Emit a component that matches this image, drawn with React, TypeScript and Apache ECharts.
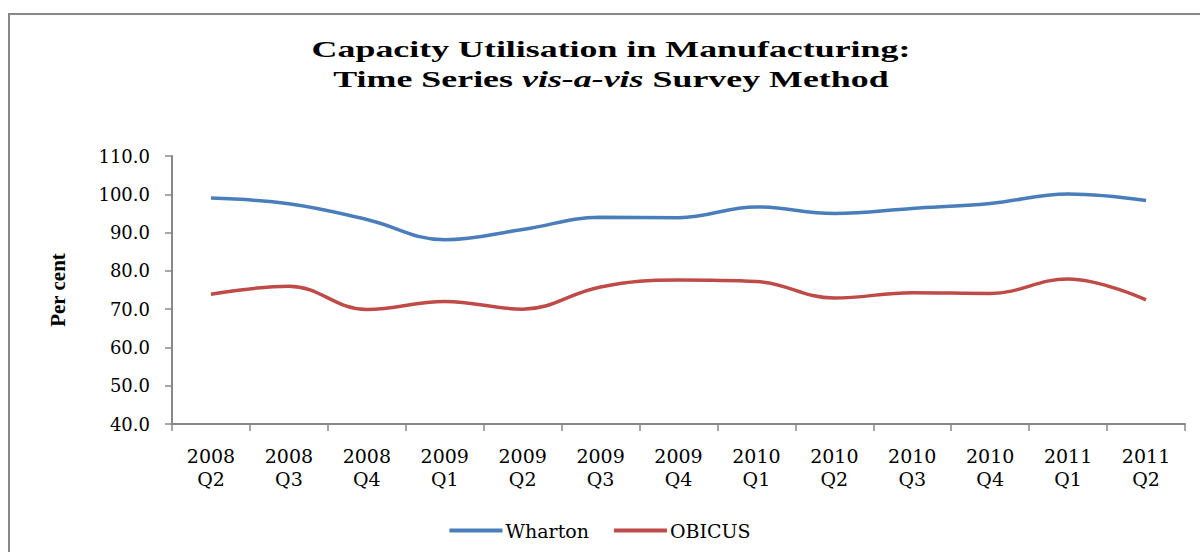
import React, { useEffect, useRef } from "react";
import * as echarts from "echarts";

const categories = [
  "2008\nQ2", "2008\nQ3", "2008\nQ4", "2009\nQ1", "2009\nQ2", "2009\nQ3", "2009\nQ4",
  "2010\nQ1", "2010\nQ2", "2010\nQ3", "2010\nQ4", "2011\nQ1", "2011\nQ2",
];
const wharton = [99.0, 97.5, 93.4, 88.1, 90.8, 94.0, 93.9, 96.7, 95.0, 96.3, 97.6, 100.1, 98.4];
const obicus = [73.9, 76.0, 69.9, 72.0, 70.0, 75.8, 77.6, 77.2, 72.9, 74.3, 74.1, 77.9, 72.4];
const titleLine1 = "Capacity Utilisation in Manufacturing:";
const titleLine2 = ["Time Series ", "vis-a-vis", " Survey Method"];

const SERIF = "'DejaVu Serif', serif";
const TIMES = "'Liberation Serif', serif";

export default function App() {
  const ref = useRef<HTMLDivElement>(null);
  useEffect(() => {
    document.body.style.margin = "0";
    const chart = echarts.init(ref.current!, undefined, { renderer: "svg" });
    chart.setOption({
      animation: false,
      backgroundColor: "#ffffff",
      graphic: [
        {
          type: "rect",
          shape: { x: 9, y: 14, width: 1300, height: 700 },
          style: { fill: "none", stroke: "#888888", lineWidth: 2 },
          silent: true,
        },
        {
          type: "text",
          x: 611,
          y: 34,
          scaleX: 1.56,
          silent: true,
          style: {
            text: `{b|${titleLine1}}\n{b|${titleLine2[0]}}{i|${titleLine2[1]}}{b|${titleLine2[2]}}`,
            align: "center",
            verticalAlign: "top",
            rich: {
              b: { fontFamily: TIMES, fontWeight: "bold", fontSize: 23, fill: "#000", lineHeight: 30 },
              i: { fontFamily: TIMES, fontStyle: "italic", fontWeight: "bold", fontSize: 23, fill: "#000", lineHeight: 30 },
            },
          },
        },
      ],
      legend: {
        bottom: 7,
        left: "center",
        icon: "rect",
        itemWidth: 53,
        itemHeight: 4,
        itemGap: 25,
        textStyle: { fontFamily: SERIF, fontSize: 19, color: "#000", padding: [0, 0, 0, -2] },
        data: ["Wharton", "OBICUS"],
      },
      grid: { left: 172, right: 15, top: 156, bottom: 128 },
      xAxis: {
        type: "category",
        data: categories,
        boundaryGap: true,
        axisLine: { lineStyle: { color: "#888888", width: 2 } },
        axisTick: { show: true, length: 7, lineStyle: { color: "#888888", width: 1.5 } },
        axisLabel: { fontFamily: SERIF, fontSize: 19, color: "#000", margin: 20, lineHeight: 23, interval: 0 },
      },
      yAxis: {
        type: "value",
        min: 40,
        max: 110,
        interval: 10,
        name: "Per cent",
        nameLocation: "middle",
        nameGap: 104,
        nameRotate: 90,
        nameTextStyle: { fontFamily: TIMES, fontWeight: "bold", fontSize: 21, color: "#000" },
        axisLine: { show: true, lineStyle: { color: "#888888", width: 2 } },
        axisTick: { show: true, length: 7, lineStyle: { color: "#888888", width: 1.5 } },
        splitLine: { show: false },
        axisLabel: {
          fontFamily: SERIF,
          fontSize: 18,
          color: "#000",
          margin: 22,
          formatter: (v: number) => v.toFixed(1),
        },
      },
      series: [
        {
          name: "Wharton",
          type: "line",
          data: wharton,
          smooth: 0.4,
          symbol: "none",
          lineStyle: { color: "#4A7EBB", width: 3.5 },
          itemStyle: { color: "#4A7EBB" },
        },
        {
          name: "OBICUS",
          type: "line",
          data: obicus,
          smooth: 0.4,
          symbol: "none",
          lineStyle: { color: "#BE4B48", width: 3.5 },
          itemStyle: { color: "#BE4B48" },
        },
      ],
    });
    return () => chart.dispose();
  }, []);
  return <div ref={ref} style={{ position: "absolute", left: 0, top: 0, width: 1200, height: 552 }} />;
}
